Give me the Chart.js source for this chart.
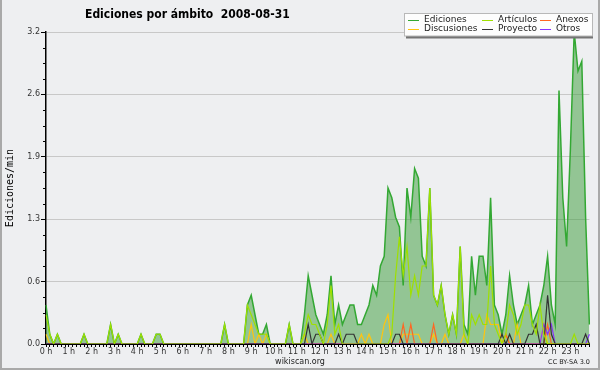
<!DOCTYPE html>
<html>
<head>
<meta charset="utf-8">
<script src="https://cdn.jsdelivr.net/npm/chart.js@4.4.1/dist/chart.umd.min.js"></script>
<style>
  html, body { margin: 0; padding: 0; background: #eeeff1; }
  canvas { display: block; }
</style>
</head>
<body>
<canvas id="chart" width="600" height="370"></canvas>
<script>
// Data (10-minute slots, edits per minute)
const hourLabels = ["0 h","1 h","2 h","3 h","4 h","5 h","6 h","7 h","8 h","9 h","10 h","11 h",
  "12 h","13 h","14 h","15 h","16 h","17 h","18 h","19 h","20 h","21 h","22 h","23 h"];
const yTickValues = [0, 0.64, 1.28, 1.92, 2.56, 3.2];
const yTickLabels = ["0.0", "0.6", "1.3", "1.9", "2.6", "3.2"];
const seriesNames = ["Ediciones", "Artículos", "Anexos", "Discusiones", "Proyecto", "Otros"];

const ediciones = [
  0.4,0.1,0,0.1,0,0,0,0,0,0,0.1,0,
  0,0,0,0,0,0.2,0,0.1,0,0,0,0,
  0,0.1,0,0,0,0.1,0.1,0,0,0,0,0,
  0,0,0,0,0,0,0,0,0,0,0,0.2,
  0,0,0,0,0,0.4,0.5,0.3,0.1,0.1,0.2,0,
  0,0,0,0,0.2,0,0,0,0.3,0.7,0.5,0.3,
  0.2,0.1,0.3,0.7,0.2,0.4,0.2,0.3,0.4,0.4,0.2,0.2,
  0.3,0.4,0.6,0.5,0.8,0.9,1.6,1.5,1.3,1.2,0.6,1.6,
  1.3,1.8,1.7,0.9,0.8,1.6,0.5,0.4,0.6,0.3,0.1,0.3,
  0.1,1.0,0.2,0.1,0.9,0.5,0.9,0.9,0.6,1.5,0.4,0.3,
  0.1,0.3,0.7,0.4,0.2,0.3,0.4,0.6,0.2,0.3,0.4,0.6,
  0.9,0.4,0.2,2.6,1.5,1.0,2.0,3.2,2.8,2.9,1.3,0.2
];
const articulos = [
  0.3,0.1,0,0.1,0,0,0,0,0,0,0.1,0,
  0,0,0,0,0,0.2,0,0.1,0,0,0,0,
  0,0.1,0,0,0,0.1,0.1,0,0,0,0,0,
  0,0,0,0,0,0,0,0,0,0,0,0.2,
  0,0,0,0,0,0.4,0.3,0.2,0.1,0.1,0.1,0,
  0,0,0,0,0.2,0,0,0,0.1,0.3,0.2,0.2,
  0.1,0,0.2,0.6,0.1,0.2,0,0,0,0,0,0,
  0,0,0,0,0,0,0,0.1,0.7,1.1,0.7,1.0,
  0.5,0.7,0.5,0.8,0.8,1.6,0.5,0.4,0.6,0.3,0.1,0.3,
  0.1,1.0,0.1,0,0.3,0.2,0.3,0.2,0.2,0.8,0.2,0.1,
  0,0.1,0.4,0.3,0.1,0.2,0.4,0.4,0.2,0.1,0.4,0.1,
  0,0,0,0,0,0,0,0.1,0,0,0,0
];
const anexos = [
  0,0,0,0,0,0,0,0,0,0,0,0,
  0,0,0,0,0,0,0,0,0,0,0,0,
  0,0,0,0,0,0,0,0,0,0,0,0,
  0,0,0,0,0,0,0,0,0,0,0,0,
  0,0,0,0,0,0,0,0,0,0,0,0,
  0,0,0,0,0,0,0,0,0,0,0,0,
  0,0,0,0,0,0,0,0,0,0,0,0,
  0,0,0,0,0,0,0,0,0,0,0.2,0,
  0.2,0,0,0,0,0,0.2,0,0,0,0,0,
  0,0,0,0,0,0,0,0,0,0,0,0,
  0,0.1,0,0,0,0,0,0,0,0,0,0,
  0.2,0,0,0,0,0,0,0,0,0,0,0
];
const discusiones = [
  0.1,0,0,0,0,0,0,0,0,0,0,0,
  0,0,0,0,0,0,0,0,0,0,0,0,
  0,0,0,0,0,0,0,0,0,0,0,0,
  0,0,0,0,0,0,0,0,0,0,0,0,
  0,0,0,0,0,0,0.2,0,0.1,0,0.1,0,
  0,0,0,0,0,0,0,0,0.1,0,0,0,
  0,0,0,0.1,0,0,0,0,0,0,0,0.1,
  0,0.1,0,0,0,0.2,0.3,0,0,0,0.1,0.1,
  0.1,0.1,0.1,0,0,0,0.1,0,0,0.1,0,0,
  0,0,0.1,0,0,0,0,0,0.3,0.2,0.2,0.2,
  0,0.1,0,0,0.2,0,0,0,0,0,0,0.2,
  0,0,0,0,0,0,0,0,0,0,0,0
];
const proyecto = [
  0,0,0,0,0,0,0,0,0,0,0,0,
  0,0,0,0,0,0,0,0,0,0,0,0,
  0,0,0,0,0,0,0,0,0,0,0,0,
  0,0,0,0,0,0,0,0,0,0,0,0,
  0,0,0,0,0,0,0,0,0,0,0,0,
  0,0,0,0,0,0,0,0,0,0.2,0,0.1,
  0.1,0,0,0,0,0.1,0,0.1,0.1,0.1,0,0,
  0,0,0,0,0,0,0,0,0.1,0.1,0,0,
  0,0,0,0,0,0,0,0,0,0,0,0,
  0,0,0,0,0,0,0,0,0,0,0,0,
  0.1,0,0.1,0,0,0,0,0.1,0.1,0.2,0,0,
  0.5,0.1,0,0,0,0,0,0,0,0,0.1,0
];
const otros = [
  0,0,0,0,0,0,0,0,0,0,0,0,
  0,0,0,0,0,0,0,0,0,0,0,0,
  0,0,0,0,0,0,0,0,0,0,0,0,
  0,0,0,0,0,0,0,0,0,0,0,0,
  0,0,0,0,0,0,0,0,0,0,0,0,
  0,0,0,0,0,0,0,0,0,0,0,0,
  0,0,0,0,0,0,0,0,0,0,0,0,
  0,0,0,0,0,0,0,0,0,0,0,0,
  0,0,0,0,0,0,0,0,0,0,0,0,
  0,0,0,0,0,0,0,0,0,0,0,0,
  0,0,0,0,0,0,0,0,0,0,0,0.2,
  0.1,0.2,0,0,0,0,0,0,0,0,0,0.1
];

const seriesData = [ediciones, articulos, anexos, discusiones, proyecto, otros];
const seriesColors = ["#33a833", "#9fe000", "#ff6622", "#ffc40f", "#333333", "#8833ff"];
const drawOrder = [10, 1, 3, 4, 2, 2];

// one slot per 10 minutes, label only on the hour
const slotLabels = [];
hourLabels.forEach(h => { slotLabels.push(h); for (let m = 1; m < 6; m++) slotLabels.push(""); });

const FONT = "DejaVu Sans";

// background + frame
const frame = {
  id: "frame",
  beforeDraw(chart) {
    const { ctx } = chart;
    ctx.save();
    ctx.fillStyle = "#eeeff1";
    ctx.fillRect(0, 0, chart.width, chart.height);
    ctx.strokeStyle = "#a9a9a9";
    ctx.lineWidth = 2;
    ctx.beginPath();
    ctx.moveTo(1, 0); ctx.lineTo(1, 369); ctx.lineTo(599, 369); ctx.lineTo(599, 0);
    ctx.stroke();
    ctx.restore();
  }
};

// small ticks between the labelled ones on the y axis
const minorTicks = {
  id: "minorTicks",
  afterDraw(chart) {
    const y = chart.scales.y, ctx = chart.ctx;
    ctx.save();
    ctx.strokeStyle = "#000";
    ctx.lineWidth = 1;
    for (let k = 0; k < yTickValues.length - 1; k++) {
      const step = (yTickValues[k + 1] - yTickValues[k]) / 4;
      for (let j = 1; j < 4; j++) {
        const py = Math.round(y.getPixelForValue(yTickValues[k] + j * step)) + 0.5;
        ctx.beginPath(); ctx.moveTo(y.right - 3, py); ctx.lineTo(y.right, py); ctx.stroke();
      }
    }
    ctx.restore();
  }
};

// boxed legend, 3 columns x 2 rows
const boxLegend = {
  id: "boxLegend",
  afterDraw(chart) {
    const ctx = chart.ctx;
    ctx.save();
    ctx.fillStyle = "#747474";
    ctx.fillRect(406, 36, 187, 2.5);
    ctx.fillStyle = "#fdfdfd";
    ctx.fillRect(404, 13, 189, 23);
    ctx.strokeStyle = "#b8b8b8";
    ctx.lineWidth = 1;
    ctx.strokeRect(404.5, 13.5, 188, 22.5);
    const colX = [408, 482, 540];
    const rowY = [20, 29];
    ctx.font = `9px "${FONT}"`;
    ctx.textBaseline = "middle";
    ctx.textAlign = "left";
    seriesNames.forEach((name, k) => {
      const x = colX[k % 3], y = rowY[Math.floor(k / 3)];
      ctx.strokeStyle = seriesColors[k];
      ctx.lineWidth = 1;
      ctx.beginPath(); ctx.moveTo(x, y + 0.5); ctx.lineTo(x + 11, y + 0.5); ctx.stroke();
      ctx.fillStyle = "#222";
      ctx.fillText(name, x + 16, y);
    });
    ctx.restore();
  }
};

// title and footer texts
const texts = {
  id: "texts",
  afterDraw(chart) {
    const ctx = chart.ctx;
    ctx.save();
    ctx.fillStyle = "#000";
    ctx.textBaseline = "alphabetic";
    ctx.textAlign = "left";
    ctx.font = `bold 12px "DejaVu Sans Condensed", "${FONT}"`;
    ctx.fillText("Ediciones por ámbito  2008-08-31", 85, 18);
    ctx.fillStyle = "#222";
    ctx.textAlign = "center";
    ctx.font = `8px "${FONT}"`;
    ctx.fillText("wikiscan.org", 300, 364);
    ctx.textAlign = "right";
    ctx.font = `6.5px "${FONT}"`;
    ctx.fillText("CC BY-SA 3.0", 590, 364);
    ctx.restore();
  }
};

const datasets = seriesNames.map((name, k) => ({
  label: name,
  data: seriesData[k],
  borderColor: seriesColors[k],
  borderWidth: k === 0 ? 1.5 : 1.2,
  backgroundColor: k === 0 ? "rgba(55,155,55,0.5)" : seriesColors[k],
  fill: k === 0 ? "origin" : false,
  pointRadius: 0,
  tension: 0,
  order: drawOrder[k]
}));

new Chart(document.getElementById("chart").getContext("2d"), {
  type: "line",
  data: { labels: slotLabels, datasets },
  options: {
    responsive: false,
    animation: false,
    devicePixelRatio: 1,
    layout: { padding: { top: 32, right: 10.6, bottom: 0, left: 0 } },
    plugins: { legend: { display: false }, tooltip: { enabled: false } },
    scales: {
      x: {
        type: "category",
        afterFit: s => { s.height = 26; },
        ticks: {
          autoSkip: false, maxRotation: 0, minRotation: 0, padding: 0,
          callback: (v, i) => slotLabels[i],
          font: { family: FONT, size: 8 }, color: "#333"
        },
        grid: { drawOnChartArea: false, tickLength: 3, tickColor: "#000", lineWidth: 1 },
        border: { color: "#000", width: 2 },
        z: 1
      },
      y: {
        min: 0, max: 3.2,
        afterBuildTicks: s => { s.ticks = yTickValues.map(v => ({ value: v })); },
        afterFit: s => { s.width = 46; },
        ticks: {
          padding: 1,
          callback: (v, i) => yTickLabels[i],
          font: { family: FONT, size: 8 }, color: "#333"
        },
        grid: { color: "#c8c8c8", lineWidth: 1, tickLength: 5, tickColor: "#000" },
        border: { color: "#000", width: 1.5 },
        title: {
          display: true, text: "Ediciones/min",
          font: { family: "DejaVu Sans Mono", size: 10 }, color: "#000",
          padding: { top: 4, bottom: 0 }
        }
      }
    }
  },
  plugins: [frame, minorTicks, boxLegend, texts]
});
</script>
</body>
</html>
